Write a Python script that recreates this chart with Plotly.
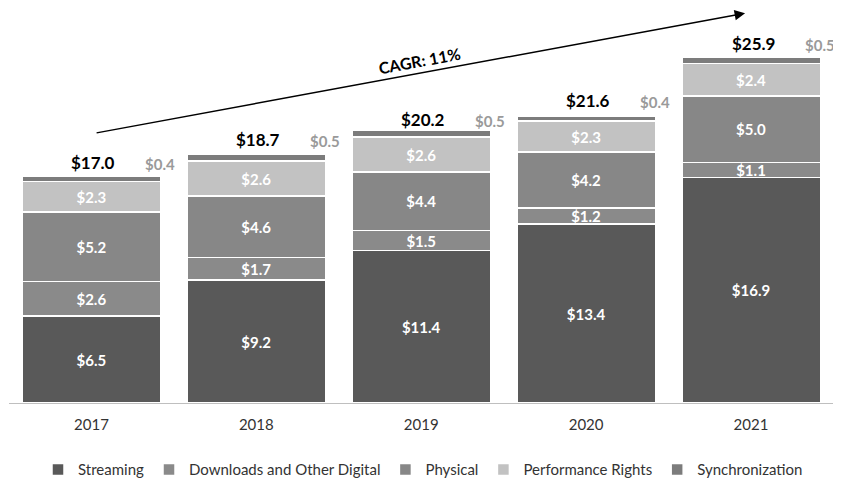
import plotly.graph_objects as go

years = ["2017", "2018", "2019", "2020", "2021"]
streaming = [6.5, 9.2, 11.4, 13.4, 16.9]
downloads = [2.6, 1.7, 1.5, 1.2, 1.1]
physical = [5.2, 4.6, 4.4, 4.2, 5.0]
performance = [2.3, 2.6, 2.6, 2.3, 2.4]
sync = [0.4, 0.5, 0.5, 0.4, 0.5]
totals = [17.0, 18.7, 20.2, 21.6, 25.9]

series = [
    ("Streaming", streaming, "#595959", True),
    ("Downloads and Other Digital", downloads, "#8a8a8a", True),
    ("Physical", physical, "#878787", True),
    ("Performance Rights", performance, "#c2c2c2", True),
    ("Synchronization", sync, "#7c7c7c", False),
]

FONT = "Lato"

fig = go.Figure()
for name, vals, color, show in series:
    bar = go.Bar(
        name=name, x=years, y=vals,
        marker=dict(color=color, line=dict(color="white", width=1.5)),
        hoverinfo="skip",
    )
    if show:
        bar.text = [f"<b>${v:.1f}</b>" for v in vals]
        bar.textposition = "inside"
        bar.insidetextanchor = "middle"
        bar.textfont = dict(family=FONT, size=15, color="white")
    else:
        bar.textposition = "none"
    fig.add_trace(bar)

for i, (tot, s) in enumerate(zip(totals, sync)):
    fig.add_annotation(x=i, y=tot, text=f"<b>${tot:.1f}</b>", showarrow=False,
                       yanchor="bottom", yshift=1, xshift=2,
                       font=dict(family=FONT, size=17, color="black"))
    fig.add_annotation(x=i, y=tot, text=f"<b>${s:.1f}</b>", showarrow=False,
                       yanchor="bottom", yshift=1, xshift=69,
                       font=dict(family=FONT, size=15, color="#9a9a9a"))

# CAGR arrow
fig.add_annotation(xref="paper", yref="paper", x=0.889, y=0.992, ax=-650, ay=120,
                   showarrow=True, arrowhead=2,
                   arrowsize=1.4, arrowwidth=1.5, arrowcolor="black", text="")
fig.add_annotation(xref="paper", yref="paper", x=0.496, y=0.872,
                   xanchor="center", yanchor="middle", text="<b>CAGR: 11%</b>",
                   showarrow=False, textangle=-10.5,
                   font=dict(family=FONT, size=16, color="black"))

fig.update_layout(
    barmode="stack", bargap=0.16,
    width=841, height=481,
    margin=dict(l=1, r=12, t=2, b=86),
    paper_bgcolor="white", plot_bgcolor="white",
    font=dict(family=FONT, size=14, color="#333333"),
    showlegend=True,
    uniformtext=dict(minsize=15, mode="show"),
    legend=dict(orientation="h", x=0.5, xanchor="center",
                yref="container", y=0.04, yanchor="middle",
                font=dict(family=FONT, size=15, color="#333333"),
                itemwidth=30, traceorder="normal"),
    xaxis=dict(type="category", showline=True, linecolor="#bfbfbf", linewidth=1,
               ticks="outside", ticklen=8, tickcolor="rgba(0,0,0,0)", automargin=False,
               tickfont=dict(family=FONT, size=15, color="#333333")),
    yaxis=dict(visible=False, range=[0, 29.42], automargin=False),
)

fig.write_html("out.html")
